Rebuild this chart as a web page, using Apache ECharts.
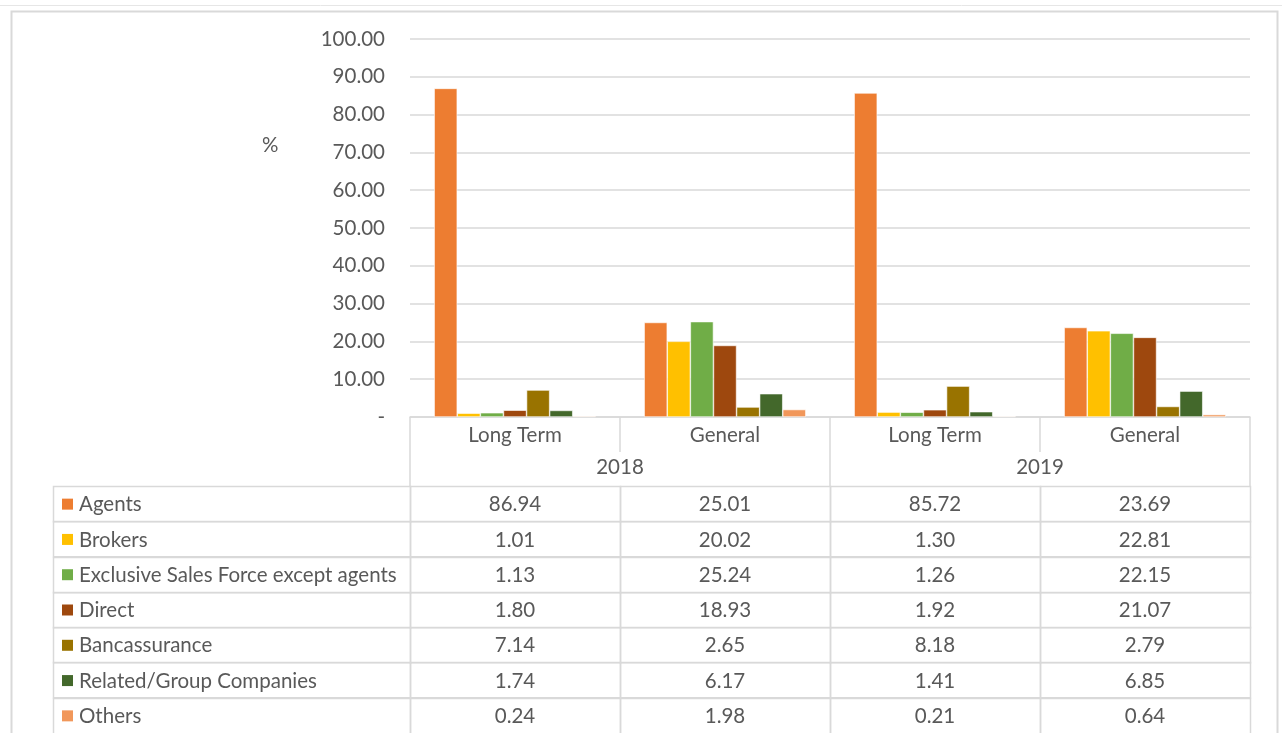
<!DOCTYPE html>
<html>
<head>
<meta charset="utf-8">
<script src="https://cdn.jsdelivr.net/npm/echarts@6/dist/echarts.min.js"></script>
<style>
  html, body { margin: 0; padding: 0; background: #fff; }
  #main { width: 1282px; height: 733px; }
</style>
</head>
<body>
<div id="main"></div>
<script>
// categories (x) and groups (years)
var columns = ['Long Term', 'General', 'Long Term', 'General'];
var years = ['2018', '2019'];
var yTicks = [0, 10, 20, 30, 40, 50, 60, 70, 80, 90, 100];

// series, in table order
var seriesNames = ['Agents', 'Brokers', 'Exclusive Sales Force except agents', 'Direct',
  'Bancassurance', 'Related/Group Companies', 'Others'];
var agents = [86.94, 25.01, 85.72, 23.69];
var brokers = [1.01, 20.02, 1.30, 22.81];
var exclusiveSales = [1.13, 25.24, 1.26, 22.15];
var direct = [1.80, 18.93, 1.92, 21.07];
var bancassurance = [7.14, 2.65, 8.18, 2.79];
var relatedGroup = [1.74, 6.17, 1.41, 6.85];
var others = [0.24, 1.98, 0.21, 0.64];

var seriesValues = [agents, brokers, exclusiveSales, direct, bancassurance, relatedGroup, others];
var colors = ['#ED7D31', '#FFC000', '#70AD47', '#9E480E', '#997300', '#43682B', '#F1975A'];

var FONT = 'Lato';
var FS = 20.5;
var TXT = '#595959';
var LINE = '#d9d9d9';

var chart = echarts.init(document.getElementById('main'));

// bars
var barSeries = seriesNames.map(function (name, i) {
  return {
    name: name,
    type: 'bar',
    xAxisIndex: 0,
    yAxisIndex: 0,
    data: seriesValues[i],
    barGap: '0%',
    barCategoryGap: '23%',
    itemStyle: { color: colors[i], borderColor: '#fff', borderWidth: 0.6 },
    silent: true
  };
});

// data table cells: [col, row, value]
var cellData = [];
seriesValues.forEach(function (vals, r) {
  vals.forEach(function (v, c) { cellData.push([c, r, v]); });
});
var labelData = seriesNames.map(function (n, r) { return [0, r]; });

function renderCell(params, api) {
  var p = api.coord([api.value(0), api.value(1)]);
  var s = api.size([1, 1]);
  return {
    type: 'group',
    children: [
      {
        type: 'rect',
        shape: { x: Math.round(p[0] - s[0] / 2) + 0.5, y: Math.round(p[1] - s[1] / 2) + 0.5, width: s[0], height: s[1] },
        style: { fill: 'none', stroke: LINE, lineWidth: 1.5 }
      },
      {
        type: 'text',
        style: {
          text: api.value(2).toFixed(2), x: p[0], y: p[1] + 1,
          align: 'center', verticalAlign: 'middle', fill: TXT, font: FS + 'px ' + FONT
        }
      }
    ]
  };
}

function renderLabel(params, api) {
  var r = api.value(1);
  var p = api.coord([0, r]);
  var s = api.size([1, 1]);
  var right = params.coordSys.x;
  var left = 53;
  var top = Math.round(p[1] - s[1] / 2) + 0.5;
  return {
    type: 'group',
    children: [
      {
        type: 'rect',
        shape: { x: left + 0.5, y: top, width: right - left, height: s[1] },
        style: { fill: 'none', stroke: LINE, lineWidth: 1.5 }
      },
      {
        type: 'rect',
        shape: { x: 62, y: p[1] - 5, width: 11, height: 11 },
        style: { fill: colors[r] }
      },
      {
        type: 'text',
        style: {
          text: seriesNames[r], x: 79, y: p[1] + 1,
          align: 'left', verticalAlign: 'middle', fill: TXT, font: FS + 'px ' + FONT
        }
      }
    ]
  };
}

chart.setOption({
  animation: false,
  backgroundColor: '#fff',
  textStyle: { fontFamily: FONT },
  title: {
    text: '%', left: 257, top: 130,
    textStyle: { fontSize: FS, fontWeight: 'normal', color: TXT, fontFamily: FONT }
  },
  graphic: [
    {
      type: 'rect', silent: true, z: -10,
      shape: { x: 11.5, y: 11.5, width: 1266, height: 740 },
      style: { fill: 'none', stroke: LINE, lineWidth: 2 }
    },
    {
      type: 'line', silent: true, z: -10,
      shape: { x1: 0, y1: 5.5, x2: 1282, y2: 5.5 },
      style: { stroke: '#e6e6e6', lineWidth: 1 }
    }
  ],
  grid: [
    { left: 410, right: 32, top: 39, height: 378 },
    { left: 410, right: 32, top: 486, height: 250.6 }
  ],
  xAxis: [
    {
      type: 'category', gridIndex: 0, data: columns, position: 'bottom',
      axisLine: { show: true, lineStyle: { color: LINE, width: 1.5 } },
      axisTick: { show: true, interval: 0, length: 35, lineStyle: { color: LINE, width: 1.5 } },
      axisLabel: { margin: 8, fontSize: FS, color: TXT, fontFamily: FONT, interval: 0 }
    },
    {
      type: 'category', gridIndex: 0, data: years, position: 'bottom', offset: 0,
      axisLine: { show: false },
      axisTick: { show: true, interval: 0, length: 69, lineStyle: { color: LINE, width: 1.5 } },
      axisLabel: { margin: 40, fontSize: FS, color: TXT, fontFamily: FONT, interval: 0 }
    },
    {
      type: 'category', gridIndex: 1, data: columns, show: false
    }
  ],
  yAxis: [
    {
      type: 'value', gridIndex: 0, min: yTicks[0], max: yTicks[yTicks.length - 1], interval: 10,
      axisLine: { show: false },
      axisTick: { show: false },
      splitLine: { lineStyle: { color: LINE, width: 1.5 } },
      axisLabel: {
        margin: 25, fontSize: FS, color: TXT, fontFamily: FONT,
        formatter: function (v) { return v === 0 ? '-' : v.toFixed(2); }
      }
    },
    {
      type: 'category', gridIndex: 1, data: seriesNames, inverse: true, show: false
    }
  ],
  series: barSeries.concat([
    {
      type: 'custom', name: 'cells', xAxisIndex: 2, yAxisIndex: 1,
      renderItem: renderCell, data: cellData, silent: true,
      encode: { x: 0, y: 1 }
    },
    {
      type: 'custom', name: 'labels', xAxisIndex: 2, yAxisIndex: 1,
      renderItem: renderLabel, data: labelData, silent: true,
      encode: { x: 0, y: 1 }
    }
  ])
});
</script>
</body>
</html>
